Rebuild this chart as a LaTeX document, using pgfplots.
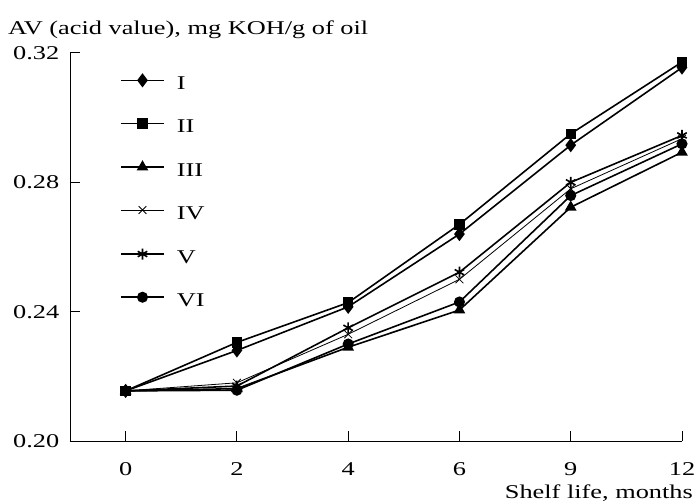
\documentclass[border=0pt]{standalone}
\usepackage{pgfplots}
\pgfplotsset{compat=1.18}
\usepackage{fontspec}
\setmainfont{Liberation Serif}[FakeStretch=1.35]
\begin{document}
\fontsize{19.5bp}{23bp}\selectfont
\begin{tikzpicture}[font=\fontsize{19.5bp}{23bp}\selectfont]
\begin{axis}[
  scale only axis, width=612bp, height=388bp,
  xmin=-0.5, xmax=5, ymin=0.20, ymax=0.32,
  axis lines=left, axis line style={-, line width=1bp, black},
  xtick={0,1,2,3,4,5}, xticklabels={0,2,4,6,9,12},
  ytick={0.20,0.24,0.28,0.32},
  /pgf/number format/assume math mode=true,
  yticklabel style={/pgf/number format/fixed, /pgf/number format/fixed zerofill, /pgf/number format/precision=2, xshift=-4bp},
  xticklabel style={yshift=-15bp},
  tick align=inside, major tick length=10bp, tick style={line width=1bp, black},
  every axis plot/.append style={black, line width=1.6bp},
  legend style={at={(axis description cs:0.0817,0.945)}, anchor=north west, draw=none, fill=none,
    inner sep=0pt, row sep=29bp, column sep=12bp,
    nodes={inner sep=0pt, text height=14bp, text depth=0bp}},
  legend cell align=left,
  legend image code/.code={
    \draw[mark repeat=2,mark phase=2,#1] plot coordinates {(0bp,2.5bp) (21.5bp,2.5bp) (43bp,2.5bp)};
  },
  clip=false,
]
\addplot[mark=diamond*, mark size=5.8bp] coordinates {(0,0.2155) (1,0.228) (2,0.2415) (3,0.264) (4,0.2915) (5,0.3155)};
\addlegendentry{I}
\addplot[mark=square*, mark size=4.4bp] coordinates {(0,0.2155) (1,0.2305) (2,0.2428) (3,0.267) (4,0.295) (5,0.3172)};
\addlegendentry{II}
\addplot[mark=triangle*, mark size=5.2bp] coordinates {(0,0.2155) (1,0.2162) (2,0.2290) (3,0.2405) (4,0.2723) (5,0.2893)};
\addlegendentry{III}
\addplot[mark=x, mark size=5.5bp, line width=0.8bp] coordinates {(0,0.2155) (1,0.2180) (2,0.2330) (3,0.2500) (4,0.2780) (5,0.2935)};
\addlegendentry{IV}
\addplot[mark=asterisk, mark size=5.5bp] coordinates {(0,0.2155) (1,0.2170) (2,0.2350) (3,0.2522) (4,0.2800) (5,0.2945)};
\addlegendentry{V}
\addplot[mark=*, mark size=4.7bp] coordinates {(0,0.2155) (1,0.2157) (2,0.2300) (3,0.2430) (4,0.2759) (5,0.2919)};
\addlegendentry{VI}
\coordinate (o) at (rel axis cs:0,0);
\node[anchor=base west, inner sep=0pt] at ([shift={(-62bp,406bp)}]rel axis cs:0,0) {AV (acid value), mg KOH/g of oil};
\node[anchor=base east, inner sep=0pt] at ([shift={(11bp,-57bp)}]rel axis cs:1,0) {Shelf life, months};
\end{axis}
\pgfresetboundingbox
\path ([shift={(-70bp,-63bp)}]o) rectangle ++(697bp,504bp);
\end{tikzpicture}
\end{document}
